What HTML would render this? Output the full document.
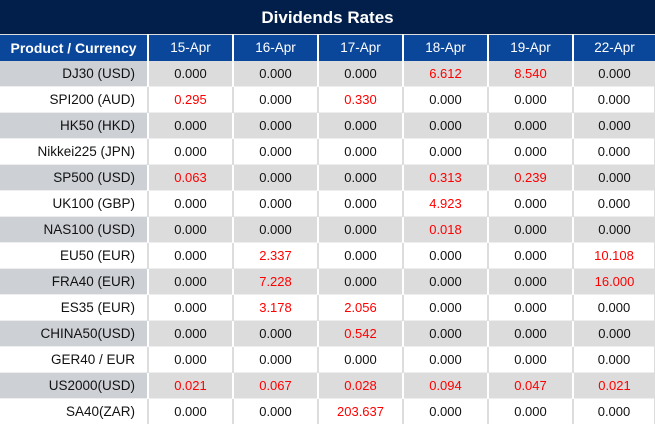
<!DOCTYPE html>
<html><head><style>
html,body{margin:0;padding:0;background:#fff;width:655px;height:424px;overflow:hidden;font-family:"Liberation Sans","DejaVu Sans",sans-serif;}
.title{height:34px;background:#021f4b;color:#fff;font-weight:bold;font-size:17px;text-align:center;line-height:36px;}
table{border-collapse:collapse;table-layout:fixed;width:655px;}
td,th{height:26px;padding:0;font-size:13px;text-align:center;border-right:2px solid #fff;border-bottom:1px solid #eee;box-sizing:border-box;}
th{background:#0a479a;color:#fff;font-weight:normal;border-top:1px solid #ddd;border-bottom:none;font-size:13.5px;}
th.f{font-weight:bold;text-align:center;font-size:14px;}
td.f{text-align:right;padding-right:12px;color:#111;font-size:13.5px;}
tr.g td{background:#dcdcdc;}
tr.g td.f{background:#cdd0d5;}
tr.w td{background:#fff;border-right:2px solid #ddd;}
td{color:#111;}
.r{color:#f00;}
td:last-child,th:last-child{border-right:none;}
</style></head><body>
<div class="title">Dividends Rates</div>
<table>
<colgroup><col style="width:148px"><col style="width:85px"><col style="width:85px"><col style="width:85px"><col style="width:85px"><col style="width:85px"><col style="width:82px"></colgroup>
<tr><th class="f">Product / Currency</th><th>15-Apr</th><th>16-Apr</th><th>17-Apr</th><th>18-Apr</th><th>19-Apr</th><th>22-Apr</th></tr>
<tr class="g"><td class="f">DJ30 (USD)</td><td>0.000</td><td>0.000</td><td>0.000</td><td class="r">6.612</td><td class="r">8.540</td><td>0.000</td></tr>
<tr class="w"><td class="f">SPI200 (AUD)</td><td class="r">0.295</td><td>0.000</td><td class="r">0.330</td><td>0.000</td><td>0.000</td><td>0.000</td></tr>
<tr class="g"><td class="f">HK50 (HKD)</td><td>0.000</td><td>0.000</td><td>0.000</td><td>0.000</td><td>0.000</td><td>0.000</td></tr>
<tr class="w"><td class="f">Nikkei225 (JPN)</td><td>0.000</td><td>0.000</td><td>0.000</td><td>0.000</td><td>0.000</td><td>0.000</td></tr>
<tr class="g"><td class="f">SP500 (USD)</td><td class="r">0.063</td><td>0.000</td><td>0.000</td><td class="r">0.313</td><td class="r">0.239</td><td>0.000</td></tr>
<tr class="w"><td class="f">UK100 (GBP)</td><td>0.000</td><td>0.000</td><td>0.000</td><td class="r">4.923</td><td>0.000</td><td>0.000</td></tr>
<tr class="g"><td class="f">NAS100 (USD)</td><td>0.000</td><td>0.000</td><td>0.000</td><td class="r">0.018</td><td>0.000</td><td>0.000</td></tr>
<tr class="w"><td class="f">EU50 (EUR)</td><td>0.000</td><td class="r">2.337</td><td>0.000</td><td>0.000</td><td>0.000</td><td class="r">10.108</td></tr>
<tr class="g"><td class="f">FRA40 (EUR)</td><td>0.000</td><td class="r">7.228</td><td>0.000</td><td>0.000</td><td>0.000</td><td class="r">16.000</td></tr>
<tr class="w"><td class="f">ES35 (EUR)</td><td>0.000</td><td class="r">3.178</td><td class="r">2.056</td><td>0.000</td><td>0.000</td><td>0.000</td></tr>
<tr class="g"><td class="f">CHINA50(USD)</td><td>0.000</td><td>0.000</td><td class="r">0.542</td><td>0.000</td><td>0.000</td><td>0.000</td></tr>
<tr class="w"><td class="f">GER40 / EUR</td><td>0.000</td><td>0.000</td><td>0.000</td><td>0.000</td><td>0.000</td><td>0.000</td></tr>
<tr class="g"><td class="f">US2000(USD)</td><td class="r">0.021</td><td class="r">0.067</td><td class="r">0.028</td><td class="r">0.094</td><td class="r">0.047</td><td class="r">0.021</td></tr>
<tr class="w"><td class="f">SA40(ZAR)</td><td>0.000</td><td>0.000</td><td class="r">203.637</td><td>0.000</td><td>0.000</td><td>0.000</td></tr>
</table>
</body></html>
